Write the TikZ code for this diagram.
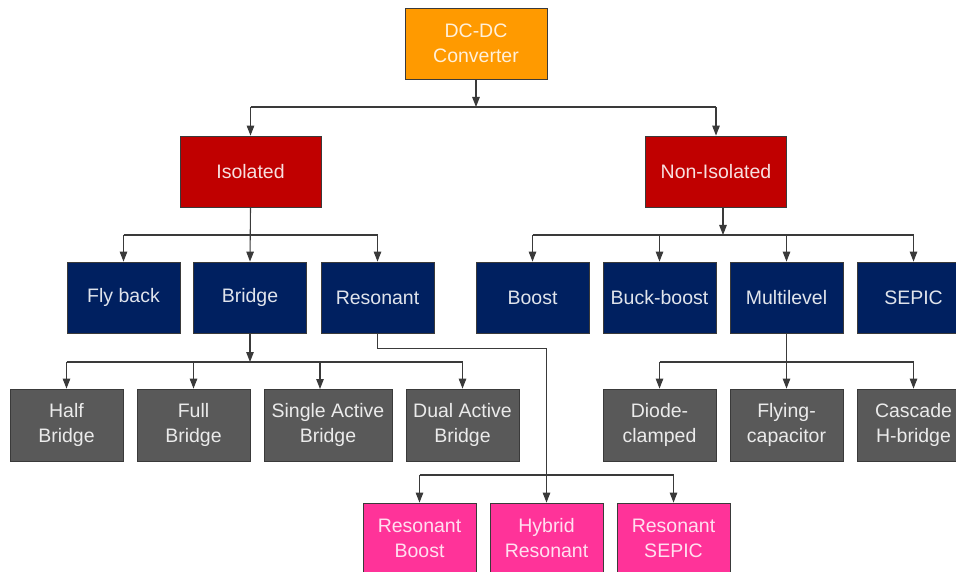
\documentclass[tikz,border=0pt]{standalone}
\usepackage{fontspec}
\setmainfont{Liberation Sans}
\usetikzlibrary{arrows.meta}
\definecolor{cOrange}{HTML}{FF9A00}
\definecolor{cRed}{HTML}{C00000}
\definecolor{cNavy}{HTML}{002060}
\definecolor{cGray}{HTML}{595959}
\definecolor{cPink}{HTML}{FF3399}
\definecolor{cLine}{HTML}{3A3A3A}
\begin{document}
\begin{tikzpicture}[x=1pt,y=-1pt,
  box/.style={draw=cLine,line width=0.8pt,rectangle,inner sep=0pt,align=center,
    font=\fontsize{19.5}{25}\selectfont,minimum width=113pt,minimum height=71pt},
  topbox/.style={box,fill=cOrange,text=white!85!cOrange,minimum width=142pt},
  redbox/.style={box,fill=cRed,text=white!88!cRed,minimum width=141pt},
  navybox/.style={box,fill=cNavy,text=white!88!cNavy},
  graybox/.style={box,fill=cGray,text=white!88!cGray,minimum height=72pt},
  pinkbox/.style={box,fill=cPink,text=white!85!cPink},
  conn/.style={draw=cLine,line width=1.1pt},
  arr/.style={conn,-{Triangle[width=7.5pt,length=10pt]}}]
\useasboundingbox (0,0) rectangle (956,572);
\clip (0,0) rectangle (956,572);
% level 1
\node[topbox] (dc) at (476,43.5) {DC-DC\\Converter};
% level 2
\node[redbox] (iso) at (250.5,171.5) {Isolated};
\node[redbox] (non) at (716,171.5) {Non-Isolated};
% level 3
\node[navybox] (fly) at (123.5,297.5) {Fly back};
\node[navybox] (bri) at (250,297.5) {Bridge};
\node[navybox] (res) at (377.5,297.5) {Resonant};
\node[navybox] (boo) at (532.5,297.5) {Boost};
\node[navybox] (buck) at (659.5,297.5) {Buck-boost};
\node[navybox] (multi) at (786.5,297.5) {Multilevel};
\node[navybox] (sepic) at (913.5,297.5) {SEPIC};
% level 4
\node[graybox] (half) at (66.5,425) {Half\\Bridge};
\node[graybox] (full) at (193.5,425) {Full\\Bridge};
\node[graybox,minimum width=128pt] (sab) at (328,425) {Single Active\\Bridge};
\node[graybox] (dab) at (462.5,425) {Dual Active\\Bridge};
\node[graybox] (diode) at (659.5,425) {Diode-\\clamped};
\node[graybox] (flying) at (786.5,425) {Flying-\\capacitor};
\node[graybox] (cascade) at (913.5,425) {Cascade\\H-bridge};
% level 5
\node[pinkbox] (rb) at (419.5,538.5) {Resonant\\Boost};
\node[pinkbox] (hr) at (546.5,538.5) {Hybrid\\Resonant};
\node[pinkbox] (rs) at (673.5,538.5) {Resonant\\SEPIC};
% bus coordinates
\coordinate (b1) at (0,107);
\coordinate (b2) at (0,235);
\coordinate (b4) at (0,362);
\coordinate (b5) at (0,475);
\coordinate (sabin) at (320,389);
\coordinate (nonout) at (723,207);
% DC-DC to level 2
\draw[arr] (dc.south) -- (dc.south |- b1);
\draw[conn] (b1 -| iso.north) -- (b1 -| non.north);
\draw[arr] (b1 -| iso.north) -- (iso.north);
\draw[arr] (b1 -| non.north) -- (non.north);
% Isolated
\draw[conn] (b2 -| fly.north) -- (b2 -| res.north);
\draw[arr] (iso.south) -- (bri.north);
\draw[arr] (b2 -| fly.north) -- (fly.north);
\draw[arr] (b2 -| res.north) -- (res.north);
% Non-Isolated
\draw[arr] (nonout) -- (nonout |- b2);
\draw[conn] (b2 -| boo.north) -- (b2 -| sepic.north);
\draw[arr] (b2 -| boo.north) -- (boo.north);
\draw[arr] (b2 -| buck.north) -- (buck.north);
\draw[arr] (b2 -| multi.north) -- (multi.north);
\draw[arr] (b2 -| sepic.north) -- (sepic.north);
% Bridge
\draw[arr] (bri.south) -- (bri.south |- b4);
\draw[conn] (b4 -| half.north) -- (b4 -| dab.north);
\draw[arr] (b4 -| half.north) -- (half.north);
\draw[arr] (b4 -| full.north) -- (full.north);
\draw[arr] (b4 -| sabin) -- (sabin);
\draw[arr] (b4 -| dab.north) -- (dab.north);
% Multilevel
\draw[conn] (b4 -| diode.north) -- (b4 -| cascade.north);
\draw[arr] (multi.south) -- (flying.north);
\draw[arr] (b4 -| diode.north) -- (diode.north);
\draw[arr] (b4 -| cascade.north) -- (cascade.north);
% Resonant
\draw[arr] (res.south) -- ++(0,15) -| (hr.north);
\draw[conn] (b5 -| rb.north) -- (b5 -| rs.north);
\draw[arr] (b5 -| rb.north) -- (rb.north);
\draw[arr] (b5 -| rs.north) -- (rs.north);
\end{tikzpicture}
\end{document}
